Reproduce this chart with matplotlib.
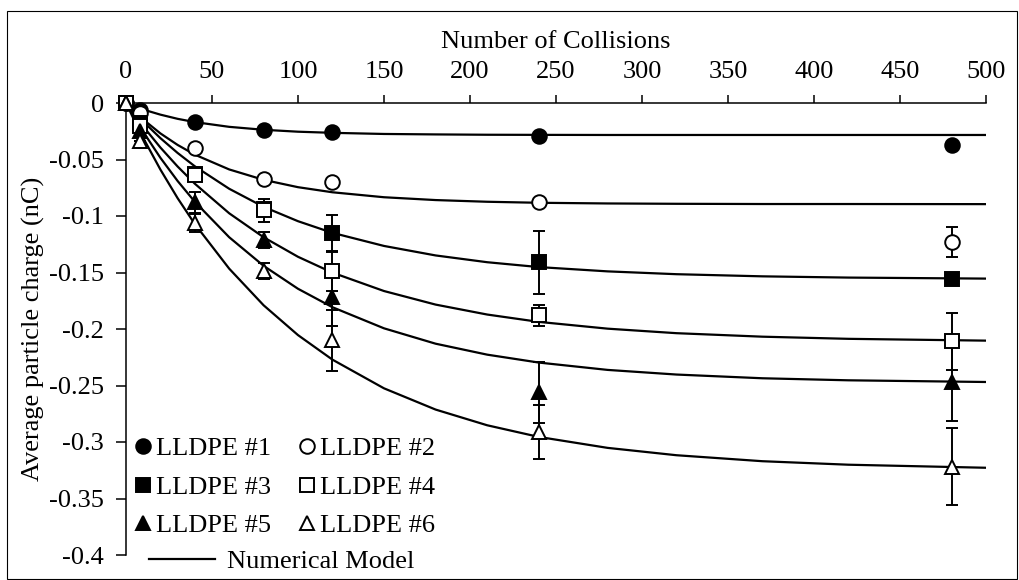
import matplotlib
matplotlib.use('Agg')
import matplotlib.pyplot as plt
from matplotlib.patches import Rectangle
from matplotlib.ticker import FuncFormatter, MultipleLocator

plt.rcParams['font.family'] = ['Liberation Serif', 'DejaVu Serif']
plt.rcParams['font.size'] = 19

# collisions where the charge was measured
colisions = [0, 8, 40, 80, 120, 240, 480]

# average particle charge (nC)
lldpe1 = [0, -0.006, -0.017, -0.024, -0.026, -0.029, -0.037]
lldpe2 = [0, -0.009, -0.040, -0.067, -0.070, -0.088, -0.123]
lldpe3 = [0, -0.018, -0.063, -0.094, -0.115, -0.141, -0.156]
lldpe4 = [0, -0.020, -0.064, -0.095, -0.149, -0.188, -0.211]
lldpe5 = [0, -0.025, -0.088, -0.121, -0.172, -0.256, -0.247]
lldpe6 = [0, -0.034, -0.106, -0.149, -0.210, -0.291, -0.322]

# error bars
err1 = [0, 0, 0, 0, 0, 0, 0]
err2 = [0, 0, 0, 0, 0, 0, 0.013]
err3 = [0, 0, 0, 0, 0.016, 0.028, 0.002]
err4 = [0, 0, 0.002, 0.010, 0.017, 0.009, 0.025]
err5 = [0, 0, 0.009, 0.007, 0.025, 0.027, 0.034]
err6 = [0, 0, 0.008, 0.007, 0.027, 0.024, 0.034]

# numerical model curves
n_model = [0, 5, 10, 20, 30, 40, 60, 80, 100, 120, 150, 180, 210, 240, 280, 320, 370, 420, 500]
model1 = [0, -0.0030, -0.0058, -0.0103, -0.0140, -0.0169, -0.0211, -0.0237, -0.0254, -0.0264,
          -0.0274, -0.0278, -0.0281, -0.0282, -0.0283, -0.0283, -0.0283, -0.0283, -0.0283]
model2 = [0, -0.0077, -0.0146, -0.0269, -0.0371, -0.0457, -0.0588, -0.0680, -0.0745, -0.0790,
          -0.0834, -0.0859, -0.0874, -0.0883, -0.0889, -0.0892, -0.0894, -0.0894, -0.0895]
model3 = [0, -0.0084, -0.0164, -0.0311, -0.0442, -0.0560, -0.0759, -0.0919, -0.1046, -0.1149,
          -0.1265, -0.1349, -0.1409, -0.1452, -0.1490, -0.1515, -0.1534, -0.1545, -0.1554]
model4 = [0, -0.0106, -0.0207, -0.0394, -0.0562, -0.0714, -0.0976, -0.1188, -0.1361, -0.1501,
          -0.1664, -0.1784, -0.1872, -0.1937, -0.1997, -0.2037, -0.2068, -0.2087, -0.2103]
model5 = [0, -0.0131, -0.0255, -0.0485, -0.0690, -0.0874, -0.1188, -0.1441, -0.1644, -0.1807,
          -0.1994, -0.2130, -0.2227, -0.2297, -0.2362, -0.2403, -0.2436, -0.2454, -0.2469]
model6 = [0, -0.0159, -0.0309, -0.0589, -0.0842, -0.1071, -0.1466, -0.1790, -0.2054, -0.2271,
          -0.2525, -0.2713, -0.2852, -0.2955, -0.3052, -0.3117, -0.3170, -0.3201, -0.3228]

series = [(lldpe1, err1, 'o', 'black', 'LLDPE #1'),
          (lldpe2, err2, 'o', 'white', 'LLDPE #2'),
          (lldpe3, err3, 's', 'black', 'LLDPE #3'),
          (lldpe4, err4, 's', 'white', 'LLDPE #4'),
          (lldpe5, err5, '^', 'black', 'LLDPE #5'),
          (lldpe6, err6, '^', 'white', 'LLDPE #6')]

fig = plt.figure(figsize=(10.19, 5.80), dpi=100)
ax = fig.add_axes([126/1019, 1-555/580, (986-126)/1019, (555-103)/580])

# model lines
for m in [model1, model2, model3, model4, model5, model6]:
    lin, = ax.plot(n_model, m, color='black', lw=1.6, zorder=2)
model_line = lin

handles = {}
for vals, err, mk, fc, lab in series:
    eb = ax.errorbar(colisions, vals, yerr=err, fmt=mk, color='black', mfc=fc, mec='black',
                     mew=1.4, ms=10.5 if mk != 's' else 10, ecolor='black', elinewidth=1.4,
                     capsize=4.5, capthick=1.4, zorder=3, clip_on=False, label=lab)
    handles[lab] = eb[0]
    for c in eb[1]:
        c.set_clip_on(False)
    for b in eb[2]:
        b.set_clip_on(False)

ax.set_xlim(0, 500)
ax.set_ylim(-0.4, 0)
ax.xaxis.set_major_locator(MultipleLocator(50))
ax.yaxis.set_major_locator(MultipleLocator(0.05))
ax.yaxis.set_major_formatter(FuncFormatter(lambda v, p: '%g' % round(v, 2) if abs(v) > 1e-9 else '0'))

ax.xaxis.tick_top()
ax.xaxis.set_label_position('top')
ax.spines['bottom'].set_visible(False)
ax.spines['right'].set_visible(False)
ax.spines['top'].set_linewidth(1.1)
ax.spines['left'].set_linewidth(1.1)
ax.tick_params(axis='x', direction='out', length=6, width=1.1, pad=8.5)
ax.tick_params(axis='y', direction='out', length=7, width=1.1, pad=9)

ax.set_xlabel('Number of Collisions', labelpad=9)
ax.set_ylabel('Average particle charge (nC)', labelpad=2.5)

# legends
order = ['LLDPE #1', 'LLDPE #2', 'LLDPE #3', 'LLDPE #4', 'LLDPE #5', 'LLDPE #6']
col_order = [order[0], order[2], order[4], order[1], order[3], order[5]]
leg1 = ax.legend([handles[k] for k in col_order], col_order, ncol=2, frameon=False,
                 loc='upper left', bbox_to_anchor=(132/1019, 1-437/580),
                 bbox_transform=fig.transFigure, borderpad=0, borderaxespad=0,
                 handlelength=0.8, handletextpad=0.1, columnspacing=0.95, labelspacing=0.57)
ax.add_artist(leg1)
leg2 = ax.legend([model_line], ['Numerical Model'], frameon=False, loc='upper left',
                 bbox_to_anchor=(149/1019, 1-550/580), bbox_transform=fig.transFigure,
                 borderpad=0, borderaxespad=0, handlelength=2.5, handletextpad=0.45)

# chart border
fig.patches.append(Rectangle((7/1019, 1/580), (1017-7)/1019, (579-11)/580,
                             transform=fig.transFigure, fill=False, lw=0.8, ec='black'))

fig.savefig('out.png', dpi=100)
